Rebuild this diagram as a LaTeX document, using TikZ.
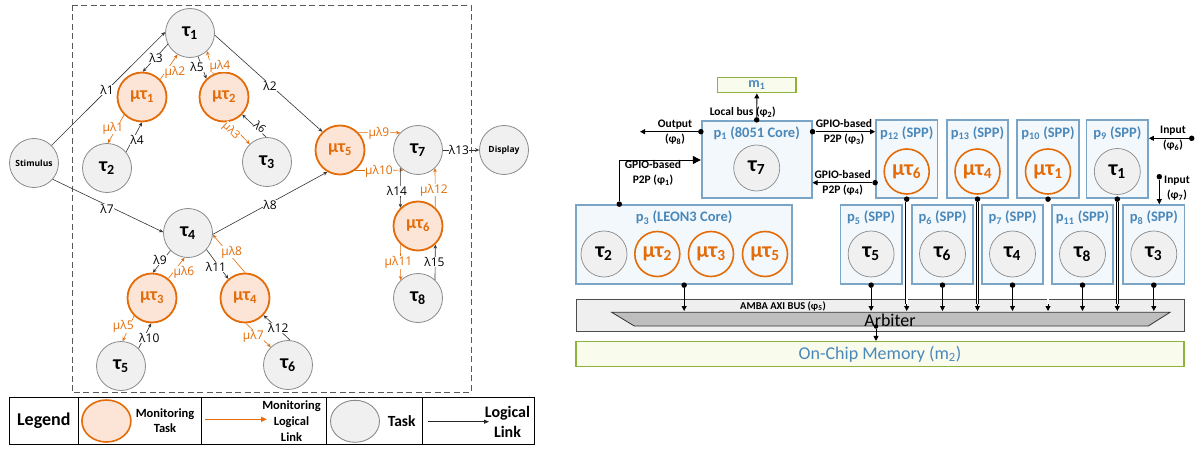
\documentclass[tikz,border=0pt]{standalone}
\usepackage{fontspec}
\setmainfont{Carlito}
\newfontfamily\graphfont{Open Sans}
\usetikzlibrary{arrows.meta,shapes.geometric}

\definecolor{monorange}{HTML}{E36C09}
\definecolor{monfill}{HTML}{FCE4D6}
\definecolor{taskfill}{HTML}{F0F0F0}
\definecolor{taskline}{HTML}{8A8A8A}
\definecolor{procline}{HTML}{7AA5C6}
\definecolor{procfill}{HTML}{F3F8FC}
\definecolor{proctext}{HTML}{4A88BA}
\definecolor{memline}{HTML}{8DB33C}
\definecolor{memfill}{HTML}{F9FBEC}
\definecolor{busfill}{HTML}{EFEFEF}
\definecolor{arbfill}{HTML}{BEBEBE}

\newcommand{\sbs}[1]{\textsubscript{#1}}
\newcommand{\fs}[1]{\fontsize{#1}{#1}\selectfont}

\tikzset{
  task/.style={circle, draw=taskline, fill=taskfill, line width=0.8pt, minimum size=49pt, inner sep=0pt, font=\fs{20}\bfseries},
  montask/.style={circle, draw=monorange, fill=monfill, line width=1.8pt, minimum size=49pt, inner sep=0pt, text=monorange, font=\fs{18}\bfseries},
  ionode/.style={task, font=\graphfont\fs{8.5}\bfseries},
  lnk/.style={draw=black!80, line width=0.6pt, -{Stealth[length=4pt,width=3.6pt]}},
  mlnk/.style={lnk, draw=monorange},
  lam/.style={font=\graphfont\fs{12}, fill=white, inner sep=0.4pt},
  mlam/.style={lam, text=monorange},
  proc/.style={draw=procline, fill=procfill, line width=1.7pt, inner sep=0pt},
  spp/.style={proc, minimum width=61.5pt, minimum height=78.3pt},
  spplow/.style={proc, minimum width=61.5pt, minimum height=79.3pt},
  ptitle/.style={text=proctext, font=\fs{14.5}\bfseries, inner sep=0pt},
  rtask/.style={circle, draw=taskline, fill=taskfill, line width=0.7pt, minimum size=46pt, inner sep=0pt, font=\fs{22}\bfseries},
  rmon/.style={circle, draw=monorange, line width=1.6pt, minimum size=45pt, inner sep=0pt, text=monorange, font=\fs{22}\bfseries},
  dot/.style={circle, fill=black, inner sep=0pt, minimum size=5.5pt},
  rarr/.style={line width=0.9pt, -{Triangle[length=5pt,width=5pt]}},
  dbl/.style={double=white, double distance=1.6pt, line width=0.6pt},
  plbl/.style={font=\fontsize{11.5}{15}\selectfont\bfseries, align=center, inner sep=0pt},
}

\begin{document}
\begin{tikzpicture}[x=1pt,y=-1pt]
\useasboundingbox (0,0) rectangle (1198,449);

% ================= task graph =================
\draw[dash pattern=on 6pt off 3.5pt, draw=black!65, line width=0.8pt] (72,5) rectangle (471,392.7);

\node[ionode] (stim) at (34,163) {Stimulus};
\node[task] (t1) at (190,33) {τ\sbs{1}};
\node[montask] (mt1) at (142,97) {μτ\sbs{1}};
\node[montask] (mt2) at (224,97) {μτ\sbs{2}};
\node[task] (t2) at (107,168) {τ\sbs{2}};
\node[task] (t3) at (267,162) {τ\sbs{3}};
\node[montask] (mt5) at (340,150) {μτ\sbs{5}};
\node[task] (t7) at (418,150) {τ\sbs{7}};
\node[ionode] (disp) at (504,150) {Display};
\node[task] (t4) at (188,233) {τ\sbs{4}};
\node[montask] (mt3) at (152,298) {μτ\sbs{3}};
\node[montask] (mt4) at (245,298) {μτ\sbs{4}};
\node[task] (t5) at (121,366) {τ\sbs{5}};
\node[task] (t6) at (288,365) {τ\sbs{6}};
\node[montask] (mt6) at (418,226) {μτ\sbs{6}};
\node[task] (t8) at (418,298) {τ\sbs{8}};

% logical links
\draw[lnk] (stim.45) -- (t1.178);
\draw[lnk] (t1.207) -- (mt1.88);
\draw[mlnk] (mt1.44) -- (t1.240);
\draw[lnk] (t1.289) -- (mt2.134);
\draw[mlnk] (mt2.115) -- (t1.313);
\draw[lnk] (t1.355) -- (mt5.134);
\draw[lnk] (t2.40) -- (mt1.270);
\draw[mlnk] (mt1.225) -- (t2.88);
\draw[lnk] (t3.92) -- (mt2.316);
\draw[mlnk] (mt2.280) -- (t3.134);
\draw[lnk] (stim.319) -- (t4.178);
\draw[lnk] (t4.357) -- (mt5.240);
\draw[mlnk] (mt5.44) -- (t7.136);
\draw[mlnk] (mt5.306) -- (t7.234);
\draw[lnk] (t7.east) -- (disp.west);
\draw[lnk] (t7.226) -- (mt6.134);
\draw[mlnk] (mt6.47) -- (t7.313);
\draw[mlnk] (mt6.226) -- (t8.134);
\draw[lnk] (t8.47) -- (mt6.313);
\draw[lnk] (t4.225) -- (mt3.88);
\draw[mlnk] (mt3.50) -- (t4.262);
\draw[lnk] (t4.318) -- (mt4.131);
\draw[mlnk] (mt4.90) -- (t4.356);
\draw[mlnk] (mt3.225) -- (t5.86);
\draw[lnk] (t5.45) -- (mt3.268);
\draw[mlnk] (mt4.272) -- (t6.134);
\draw[lnk] (t6.85) -- (mt4.317);

% link labels
\node[lam] (l1) at (107,90) {λ1};
\node[lam] (l3) at (156,58) {λ3};
\node[mlam] (ml2) at (175,72) {μλ2};
\node[lam] (l5) at (197,67) {λ5};
\node[mlam] (ml4) at (220,66) {μλ4};
\node[lam] (l2) at (270,86) {λ2};
\node[lam] (l4) at (137,140) {λ4};
\node[mlam] (ml1) at (113,128) {μλ1};
\node[lam, rotate=-42, inner sep=0pt, font=\graphfont\fs{11}] (l6) at (260,127) {λ6};
\node[mlam, rotate=-42, inner sep=0pt, font=\graphfont\fs{11}] (ml3) at (231,131) {μλ3};
\node[lam] (l7) at (107,209) {λ7};
\node[lam] (l8) at (270,205) {λ8};
\node[mlam] (ml9) at (379,133) {μλ9};
\node[mlam] (ml10) at (379,171) {μλ10};
\node[lam] (l13) at (459,150) {λ13};
\node[lam] (l14) at (397,191) {λ14};
\node[mlam] (ml12) at (434,190) {μλ12};
\node[mlam] (ml11) at (398.5,262.7) {μλ11};
\node[lam] (l15) at (434.5,262) {λ15};
\node[lam] (l9) at (160,260) {λ9};
\node[mlam] (ml6) at (184,272.7) {μλ6};
\node[lam] (l11) at (216,266.7) {λ11};
\node[mlam] (ml8) at (231.7,252) {μλ8};
\node[mlam] (ml5) at (123.3,326.7) {μλ5};
\node[lam] (l10) at (149.3,338) {λ10};
\node[mlam] (ml7) at (253.3,336.7) {μλ7};
\node[lam] (l12) at (278.3,327.7) {λ12};

% ================= legend =================
\draw[line width=0.8pt] (9,397.3) rectangle (534.6,444);
\foreach \x in {78.6,201.8,326,422.5} \draw[line width=0.8pt] (\x,397.3) -- (\x,444);
\node[font=\fs{18}\bfseries] (legt) at (43.8,421) {Legend};
\node[ellipse, draw=monorange, fill=monfill, line width=1.6pt, minimum width=49pt, minimum height=42pt] (legmon) at (106.4,421) {};
\node[font=\fontsize{12.5}{15}\selectfont\bfseries, align=center] (legmont) at (165,421) {Monitoring\\Task};
\coordinate (lma) at (205,419.3);
\coordinate (lmb) at (267,419.3);
\draw[monorange, line width=1.3pt, -{Triangle[length=6pt,width=5pt]}] (lma) -- (lmb);
\node[font=\fontsize{12.5}{16}\selectfont\bfseries, align=center] (leglinkm) at (291.5,421) {Monitoring\\Logical\\Link};
\node[ellipse, draw=taskline, fill=taskfill, line width=0.9pt, minimum width=49pt, minimum height=42pt] (legtask) at (355,421.3) {};
\node[font=\fs{15.5}\bfseries] (legtaskt) at (401.7,421) {Task};
\coordinate (lla) at (428,421.7);
\coordinate (llb) at (489,421.7);
\draw[black!85, line width=0.8pt, -{Triangle[length=5pt,width=4pt]}] (lla) -- (llb);
\node[font=\fontsize{16}{19.5}\selectfont\bfseries, align=center] (leglinkt) at (507.5,422) {Logical\\Link};

% ================= platform =================
% memories and bus
\node[draw=memline, fill=memfill, line width=1.5pt, minimum width=78.3pt, minimum height=15.4pt, inner sep=0pt, text=proctext, font=\fs{14}\bfseries] (m1) at (756.85,85) {m\sbs{1}};
\node[draw=black!70, fill=busfill, line width=1pt, minimum width=607.3pt, minimum height=32.7pt, inner sep=0pt] (bus) at (880.35,315.35) {};
\draw[draw=black!80, fill=arbfill, line width=0.8pt] (611.7,312.3) -- (1170,312.3) -- (1148.3,326) -- (634.3,326) -- cycle;
\node[font=\fs{10.5}\bfseries, inner sep=0pt] (busname) at (783,306) {AMBA AXI BUS (φ\sbs{5})};
\node[font=\fs{18}, inner sep=0pt] (arbname) at (890,320) {Arbiter};
\node[draw=memline, fill=memfill, line width=1.5pt, minimum width=608pt, minimum height=25pt, inner sep=0pt, text=proctext, font=\fs{18}] (mem) at (880,354.2) {On-Chip Memory (m\sbs{2})};

% processors, top row
\node[proc, minimum width=110pt, minimum height=77.6pt] (p1) at (756.7,159.5) {};
\node[ptitle] (p1t) at (756.7,133) {p\sbs{1} (8051 Core)};
\node[rtask] (c7) at (756.7,168) {τ\sbs{7}};

\node[spp] (p12) at (906.7,159.15) {};
\node[ptitle] (p12t) at (906.7,133) {p\sbs{12} (SPP)};
\node[rmon] (cm6) at (906.7,171.5) {μτ\sbs{6}};

\node[spp] (p13) at (977.5,159.15) {};
\node[ptitle] (p13t) at (977.5,133) {p\sbs{13} (SPP)};
\node[rmon] (cm4) at (977.5,171.5) {μτ\sbs{4}};

\node[spp] (p10) at (1048,159.15) {};
\node[ptitle] (p10t) at (1048,133) {p\sbs{10} (SPP)};
\node[rmon] (cm1) at (1048,171.5) {μτ\sbs{1}};

\node[spp] (p9) at (1117.3,159.15) {};
\node[ptitle] (p9t) at (1117.3,133) {p\sbs{9} (SPP)};
\node[rtask] (c1) at (1117.3,171.5) {τ\sbs{1}};

% processors, bottom row
\node[proc, minimum width=216.3pt, minimum height=79.3pt] (p3) at (684.15,244.65) {};
\node[ptitle] (p3t) at (684.15,217.7) {p\sbs{3} (LEON3 Core)};
\node[rtask] (c2) at (604,254) {τ\sbs{2}};
\node[rmon] (cm2) at (657.3,254) {μτ\sbs{2}};
\node[rmon] (cm3) at (711,254) {μτ\sbs{3}};
\node[rmon] (cm5) at (765,254) {μτ\sbs{5}};

\node[spplow] (p5) at (871.1,244.65) {};
\node[ptitle] (p5t) at (871.1,217.7) {p\sbs{5} (SPP)};
\node[rtask] (c5) at (871.1,254) {τ\sbs{5}};

\node[spplow] (p6) at (942.5,244.65) {};
\node[ptitle] (p6t) at (942.5,217.7) {p\sbs{6} (SPP)};
\node[rtask] (c6) at (942.5,254) {τ\sbs{6}};

\node[spplow] (p7) at (1012.5,244.65) {};
\node[ptitle] (p7t) at (1012.5,217.7) {p\sbs{7} (SPP)};
\node[rtask] (c4) at (1012.5,254) {τ\sbs{4}};

\node[spplow] (p11) at (1082.5,244.65) {};
\node[ptitle] (p11t) at (1082.5,217.7) {p\sbs{11} (SPP)};
\node[rtask] (c8) at (1082.5,254) {τ\sbs{8}};

\node[spplow] (p8) at (1153.8,244.65) {};
\node[ptitle] (p8t) at (1153.8,217.7) {p\sbs{8} (SPP)};
\node[rtask] (c3) at (1153.8,254) {τ\sbs{3}};

% helper rows and columns
\coordinate (bustop) at (0,311);
\coordinate (busjoin) at (0,304);
\coordinate (y1) at (0,160);
\coordinate (y3) at (0,131.7);
\coordinate (y4) at (0,182.7);
\coordinate (x1) at (619.3,0);
\coordinate (x7) at (1159.3,0);
\coordinate (outend) at (640,131.7);
\coordinate (in6) at (1191.7,138.3);
\coordinate (in7) at (1159.3,176.7);
\coordinate (arbout) at (876,326.5);

% port dots
\node[dot] (dloc) at (p1.north) {};
\node[dot] (dout) at (p1.west |- y3) {};
\node[dot] (dg3) at (p1.east |- y3) {};
\node[dot] (dg4) at (p12.west |- y4) {};
\node[dot] (dg1) at (p3.north -| x1) {};
\node[dot] (di6) at (in6) {};
\node[dot] (di7) at (in7) {};
\foreach \b in {p12,p13,p10,p9,p3,p5,p6,p7,p11,p8} \node[dot] (d\b) at (\b.south) {};
\node[dot, minimum size=4.5pt] (dmem) at (arbout) {};

% point-to-point links
\draw[rarr] (dloc) -- (m1.south);
\draw[rarr] (dout) -- (outend);
\draw[rarr] (dg3) -- (p12.west |- dg3);
\draw[rarr] (dg4) -- (p1.east |- dg4);
\draw[line width=0.9pt, -{Triangle[length=8pt,width=8pt]}] (dg1) |- (p1.west |- y1);
\draw[rarr] (di6) -- (p9.east |- di6);
\draw[rarr] (di7) -- (p8.north -| x7);

% bus attachments
\foreach \b in {p12,p13,p10,p9}{
  \draw[dbl] (d\b) -- (d\b |- busjoin);
  \draw[rarr] (d\b |- busjoin) -- (d\b |- bustop);
}
\foreach \b in {p3,p5,p6,p7,p11,p8} \draw[rarr] (d\b) -- (d\b |- bustop);
\draw[rarr] (dmem) -- (mem.north -| dmem);

% port labels
\node[plbl] (lloc) at (742.8,112.5) {Local bus (φ\sbs{2})};
\node[plbl] (lout) at (675,132.5) {Output\\(φ\sbs{8})};
\node[plbl] (lg3) at (844,132.3) {GPIO-based\\P2P (φ\sbs{3})};
\node[plbl] (lg1) at (653,173) {GPIO-based\\P2P (φ\sbs{1})};
\node[plbl] (lg4) at (842.7,182.5) {GPIO-based\\P2P (φ\sbs{4})};
\node[plbl] (li6) at (1173,138) {Input\\(φ\sbs{6})};
\node[plbl] (li7) at (1177,188) {Input\\(φ\sbs{7})};
\end{tikzpicture}
\end{document}
